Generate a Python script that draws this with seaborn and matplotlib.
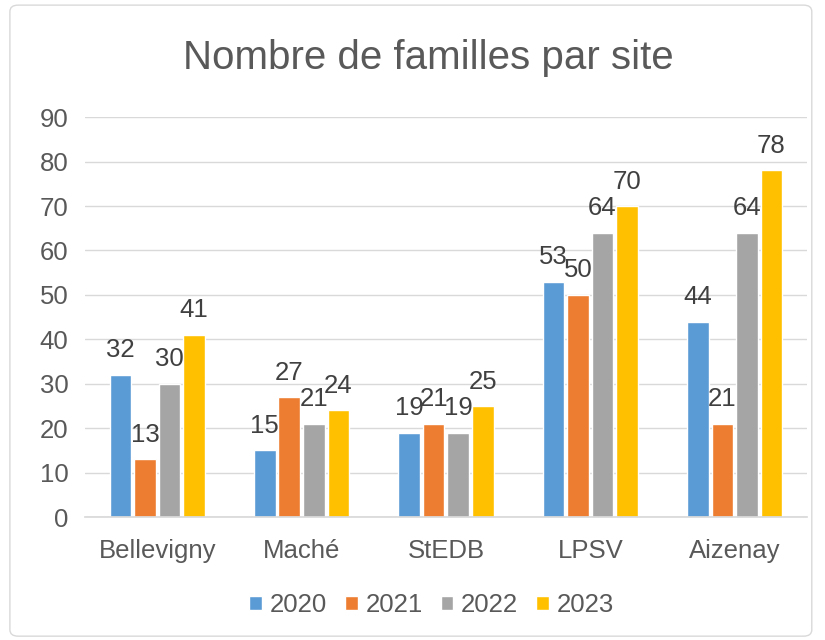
import matplotlib
matplotlib.use("Agg")
import matplotlib.pyplot as plt
import seaborn as sns
import pandas as pd
from matplotlib.patches import FancyBboxPatch

sites = ["Bellevigny", "Maché", "StEDB", "LPSV", "Aizenay"]
years = ["2020", "2021", "2022", "2023"]
v2020 = [32, 15, 19, 53, 44]
v2021 = [13, 27, 21, 50, 21]
v2022 = [30, 21, 19, 64, 64]
v2023 = [41, 24, 25, 70, 78]
colors = ["#5B9BD5", "#ED7D31", "#A5A5A5", "#FFC000"]

rows = []
for y, vals in zip(years, [v2020, v2021, v2022, v2023]):
    for s, v in zip(sites, vals):
        rows.append({"site": s, "year": y, "value": v})
df = pd.DataFrame(rows)

sns.set_theme(style="white")
plt.rcParams['font.family'] = ['Liberation Sans', 'DejaVu Sans']

fig = plt.figure(figsize=(8.25, 6.4), dpi=100)
fig.patches.append(FancyBboxPatch((0.012, 0.006), 0.972, 0.986,
                                  boxstyle="round,pad=0,rounding_size=0.01",
                                  transform=fig.transFigure, facecolor="white",
                                  edgecolor="#D9D9D9", linewidth=1.0, zorder=-10))
ax = fig.add_axes([0.103, 0.192, 0.875, 0.625])
ax.set_facecolor("none")

sns.barplot(data=df, x="site", y="value", hue="year", order=sites, hue_order=years,
            palette=colors, width=0.68, gap=0.12, ax=ax, legend=True, saturation=1)

for c in ax.containers:
    ax.bar_label(c, padding=9, fontsize=18.5, color="#404040")

ax.set_ylim(0, 90)
ax.set_yticks(range(0, 91, 10))
ax.yaxis.grid(True, color="#D9D9D9", linewidth=1)
ax.set_axisbelow(True)
for sp in ["top", "right", "left"]:
    ax.spines[sp].set_visible(False)
ax.spines["bottom"].set_color("#D9D9D9")
ax.tick_params(axis="both", length=0, labelsize=18.5, colors="#595959")
ax.tick_params(axis="x", pad=16)
ax.tick_params(axis="y", pad=12)
ax.set_xlabel("")
ax.set_ylabel("")

fig.text(0.519, 0.909, "Nombre de familles par site", ha="center", va="center",
         fontsize=29, color="#595959")

leg = ax.legend(loc="center", bbox_to_anchor=(0.48, -0.22), ncol=4, frameon=False,
                fontsize=18.5, handlelength=0.5, handleheight=0.5, handletextpad=0.3,
                columnspacing=0.7)
for t in leg.get_texts():
    t.set_color("#595959")

fig.savefig("out.png", dpi=100)
